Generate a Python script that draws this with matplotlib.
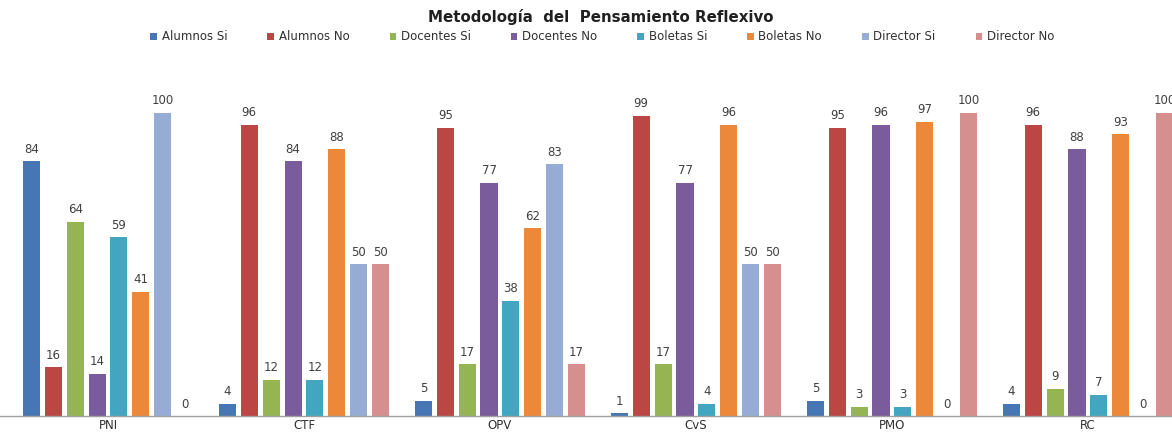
import matplotlib.pyplot as plt
from matplotlib.patches import Patch
import numpy as np

# datos
categorias = ["PNI", "CTF", "OPV", "CvS", "PMO", "RC"]
series = ["Alumnos Si", "Alumnos No", "Docentes Si", "Docentes No",
          "Boletas Si", "Boletas No", "Director Si", "Director No"]
alumnos_si = [84, 4, 5, 1, 5, 4]
alumnos_no = [16, 96, 95, 99, 95, 96]
docentes_si = [64, 12, 17, 17, 3, 9]
docentes_no = [14, 84, 77, 77, 96, 88]
boletas_si = [59, 12, 38, 4, 3, 7]
boletas_no = [41, 88, 62, 96, 97, 93]
director_si = [100, 50, 83, 50, 0, 0]
director_no = [0, 50, 17, 50, 100, 100]
valores = [alumnos_si, alumnos_no, docentes_si, docentes_no,
           boletas_si, boletas_no, director_si, director_no]

colores = ["#4677B4", "#BA4744", "#94B552", "#7A5C9C",
           "#43A5C0", "#EC883A", "#97ACD4", "#D48F8E"]

fig = plt.figure(figsize=(11.72, 4.32), dpi=100)
ax = fig.add_axes([0, 16 / 432, 1, 346 / 432])

x = np.arange(len(categorias))
paso = 0.1117
ancho = 0.087
for i, (vals, col) in enumerate(zip(valores, colores)):
    pos = x + (i - 3.5) * paso
    barras = ax.bar(pos, vals, width=ancho, color=col, label=series[i])
    for b, v in zip(barras, vals):
        ax.text(b.get_x() + b.get_width() / 2, v + 1.8, str(v),
                ha="center", va="bottom", fontsize=8.5, color="#404040")

ax.set_xlim(-0.551, 5.429)
ax.set_ylim(0, 114.1)
ax.set_yticks([])
ax.set_xticks(x)
ax.set_xticklabels(categorias, fontsize=8.5, color="#303030")
ax.tick_params(axis="x", length=0, pad=2)
for s in ["top", "right", "left"]:
    ax.spines[s].set_visible(False)
ax.spines["bottom"].set_color("#A0A0A0")
ax.spines["bottom"].set_linewidth(1)

fig.text(0.513, 1 - 17 / 432, "Metodología  del  Pensamiento Reflexivo",
         ha="center", va="center", fontsize=10.8, fontweight="bold", color="#202020")

handles = [Patch(facecolor=c, label=s) for c, s in zip(colores, series)]
fig.legend(handles=handles, loc="center", bbox_to_anchor=(0.514, 1 - 37 / 432),
           ncol=8, frameon=False, fontsize=8.5, handlelength=0.55, handleheight=0.55,
           handletextpad=0.4, columnspacing=3.4, labelcolor="#303030")

fig.savefig("out.png", dpi=100)
